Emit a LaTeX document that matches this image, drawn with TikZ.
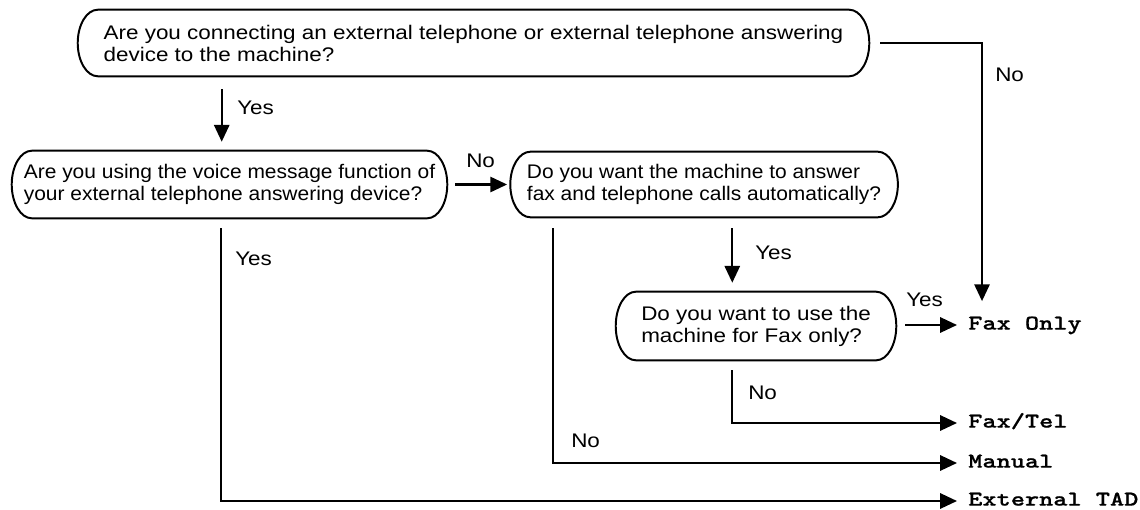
\documentclass[tikz,border=0pt]{standalone}
\usepackage{fontspec}
\setmainfont[FakeStretch=1.14]{Liberation Sans}
\newfontfamily\narrowfont[FakeStretch=1.065]{Liberation Sans}
\newfontfamily\resultfont[FakeStretch=1.28, FakeBold=0.6]{lmmonolt10-bold.otf}
\usetikzlibrary{arrows.meta, positioning, calc}
\tikzstyle{query}  = [rectangle, align=left, inner sep=0pt,
                      font=\fontsize{14}{15.65}\selectfont]
\tikzstyle{narrow} = [font=\narrowfont\fontsize{14}{15.65}\selectfont]
\tikzstyle{qframe} = [line width=1.4pt]
\tikzstyle{result} = [anchor=west, inner xsep=0.275cm, inner ysep=0.1cm,
                      text height=0.33cm, text depth=0.1cm,
                      font=\resultfont\fontsize{15}{18}\selectfont]
\tikzstyle{answer} = [anchor=west, inner sep=0pt, font=\fontsize{14}{15.65}\selectfont]
\tikzstyle{arrow}  = [-{Triangle[length=0.42cm, width=0.38cm]}, line width=1.6pt]
\def\crad{0.5cm}

\begin{document}
\begin{tikzpicture}
  \useasboundingbox (0,0) rectangle (28.5,-12.725);

  % Questions
  \node[query, minimum width=19.775cm, minimum height=1.65cm] (q1) at (11.8375,-1.075)
    {Are you connecting an external telephone or external telephone answering\\device to the machine?};
  \node[query, narrow, minimum width=10.875cm, minimum height=1.675cm] (q2) at (5.7375,-4.6125)
    {Are you using the voice message function of\\your external telephone answering device?};
  \node[query, narrow, minimum width=9.675cm, minimum height=1.625cm, right=1.575cm of q2] (q3)
    {Do you want the machine to answer\\fax and telephone calls automatically?};
  \node[query, minimum width=7cm, minimum height=1.7cm] (q4) at (18.9,-8.15)
    {Do you want to use the\\machine for Fax only?};

  % Outlines
  \foreach \q in {q1,q2,q3,q4}
    \draw[qframe] ([xshift=\crad]\q.north west) -- ([xshift=-\crad]\q.north east)
      .. controls ([xshift=-0.45*\crad]\q.north east) and ($(\q.east)!0.55!(\q.north east)$) .. (\q.east)
      .. controls ($(\q.east)!0.55!(\q.south east)$) and ([xshift=-0.45*\crad]\q.south east) .. ([xshift=-\crad]\q.south east)
      -- ([xshift=\crad]\q.south west)
      .. controls ([xshift=0.45*\crad]\q.south west) and ($(\q.west)!0.55!(\q.south west)$) .. (\q.west)
      .. controls ($(\q.west)!0.55!(\q.north west)$) and ([xshift=0.45*\crad]\q.north west) .. cycle;

  % Modes
  \node[result] (fo)  at (23.925,-8.125)  {Fax Only};
  \node[result] (ft)  at (23.925,-10.575) {Fax/Tel};
  \node[result] (man) at (23.925,-11.575) {Manual};
  \node[result] (tad) at (23.925,-12.525) {External TAD};

  % Answers
  \node[answer] (a1) at (5.925,-2.7)    {Yes};
  \node[answer] (a2) at (24.875,-1.875) {No};
  \node[answer] (a3) at (11.65,-4.025)  {No};
  \node[answer] (a4) at (5.875,-6.475)  {Yes};
  \node[answer] (a5) at (14.275,-11.025) {No};
  \node[answer] (a6) at (18.875,-6.325) {Yes};
  \node[answer] (a7) at (22.65,-7.5)    {Yes};
  \node[answer] (a8) at (18.7,-9.825)   {No};

  % Connectors
  \draw[arrow, shorten <=0.325cm, shorten >=0.225cm] ([xshift=3.6cm]q1.south west) -- ([xshift=3.6cm]q1.south west |- q2.north);
  \draw[arrow, shorten <=0.275cm, shorten >=0.275cm] (q1.east) -| ([xshift=0.625cm]fo.north west);
  \draw[arrow, shorten <=0.2cm, shorten >=0.08cm] (q2.east) -- (q3.west);
  \draw[arrow, shorten <=0.25cm] ([xshift=5.225cm]q2.south west) |- (tad.west);
  \draw[arrow, shorten <=0.275cm] ([xshift=1.075cm]q3.south west) |- (man.west);
  \draw[arrow, shorten <=0.275cm, shorten >=0.225cm] ([xshift=5.55cm]q3.south west) -- ([xshift=5.55cm]q3.south west |- q4.north);
  \draw[arrow, shorten <=0.225cm] (q4.east |- fo.west) -- (fo.west);
  \draw[arrow, shorten <=0.25cm] ([xshift=2.9cm]q4.south west) |- (ft.west);
\end{tikzpicture}
\end{document}
